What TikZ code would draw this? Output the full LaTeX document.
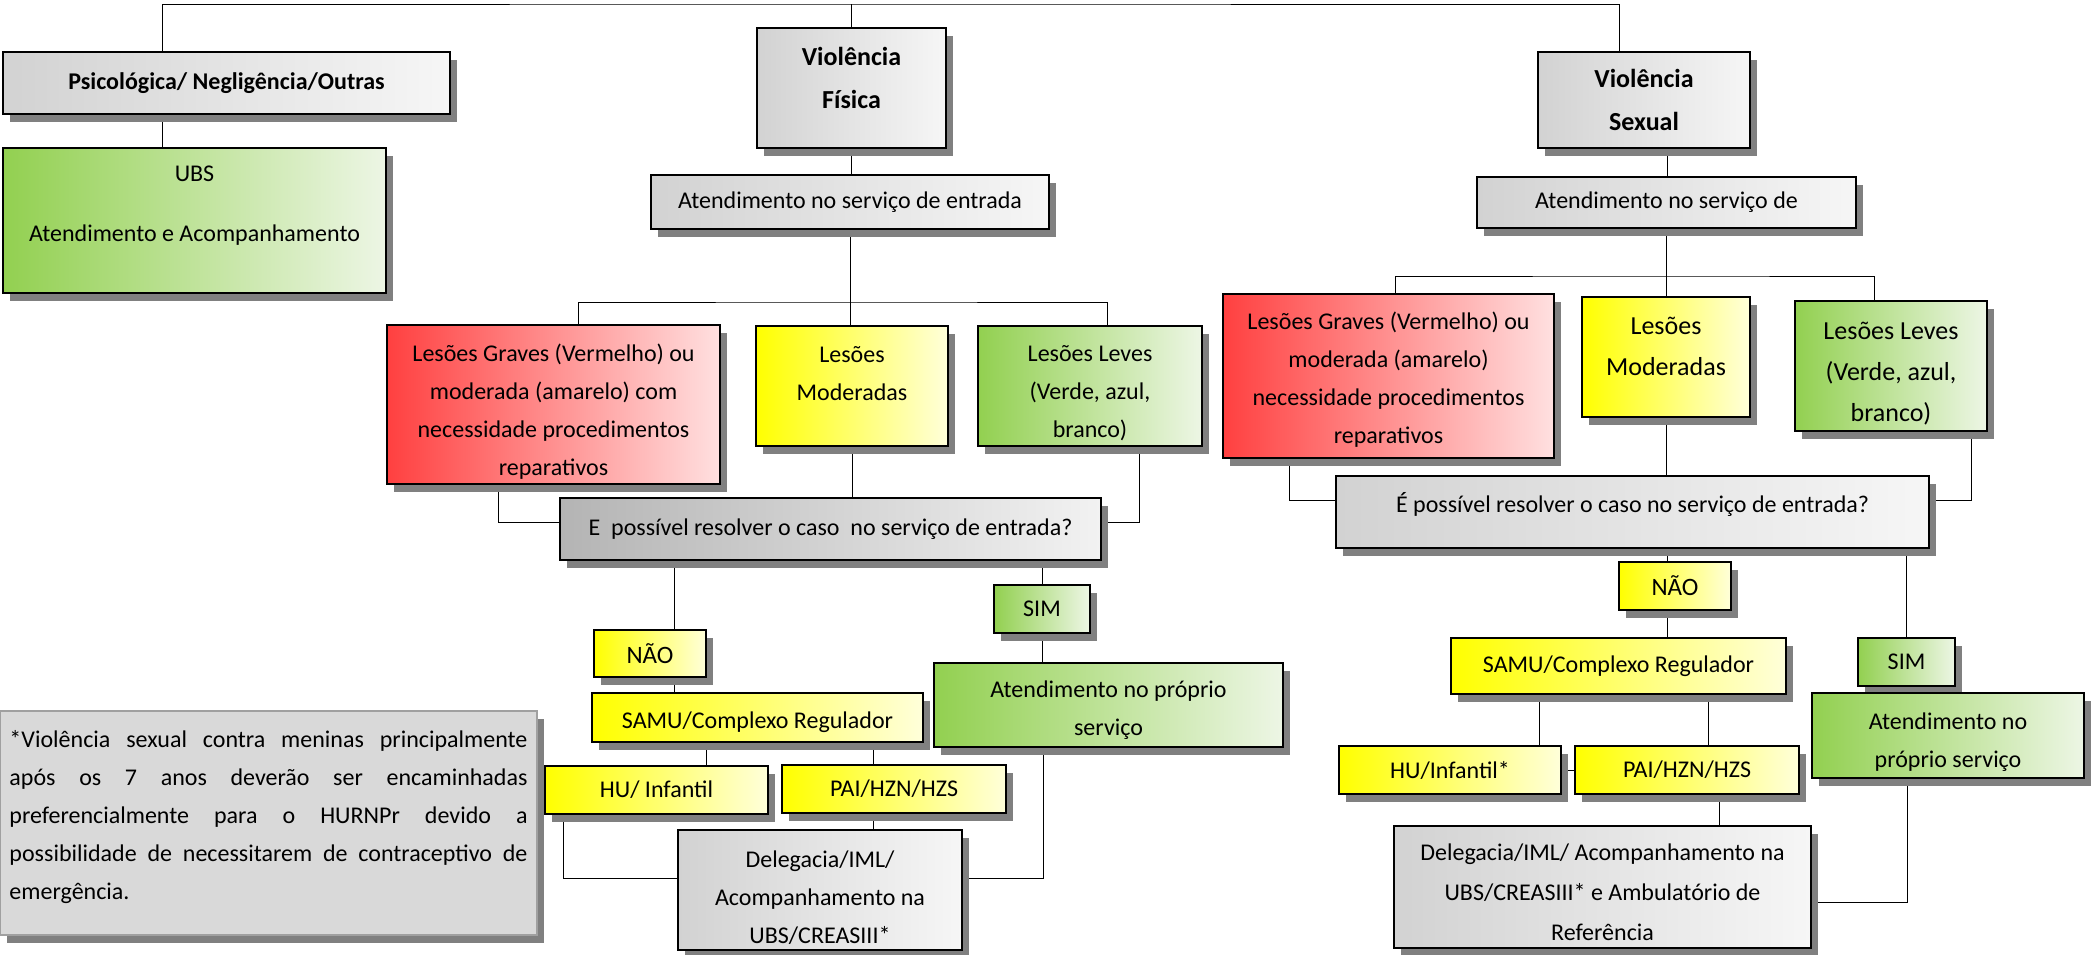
\documentclass[tikz,border=0pt]{standalone}
\usepackage{fontspec}
\setmainfont{Carlito}
\usetikzlibrary{shadows,backgrounds}

\definecolor{grayL}{HTML}{D2D2D2}
\definecolor{grayR}{HTML}{F6F6F6}
\definecolor{qgrayL}{HTML}{B4B4B4}
\definecolor{qgrayR}{HTML}{F2F2F2}
\definecolor{redL}{HTML}{FF4040}
\definecolor{redR}{HTML}{FFE0E0}
\definecolor{yelL}{HTML}{FFFF00}
\definecolor{yelR}{HTML}{FFFFDA}
\definecolor{grnL}{HTML}{92D050}
\definecolor{grnR}{HTML}{EDF6E5}
\definecolor{noteC}{HTML}{D9D9D9}
\definecolor{noteD}{HTML}{A0A0A0}
\definecolor{shadowC}{HTML}{808080}

\tikzset{
  box/.style={draw, line width=0.9pt, align=center, inner sep=2pt,
    font=\fontsize{12}{19}\selectfont,
    drop shadow={shadow xshift=3.5pt, shadow yshift=-4pt, fill=shadowC, opacity=1}},
  graybox/.style={box, left color=grayL, right color=grayR},
  qbox/.style={box, left color=qgrayL, right color=qgrayR},
  redbox/.style={box, left color=redL, right color=redR},
  yellowbox/.style={box, left color=yelL, right color=yelR},
  greenbox/.style={box, left color=grnL, right color=grnR},
  notebox/.style={draw=noteD, fill=noteC, line width=0.6pt,
    drop shadow={shadow xshift=3.5pt, shadow yshift=-4pt, fill=shadowC, opacity=1}},
  txt/.style={align=center, inner sep=0pt, font=\fontsize{12}{19}\selectfont},
  title/.style={font=\bfseries\fontsize{13}{21.5}\selectfont},
  big/.style={font=\fontsize{13}{20.5}\selectfont},
  nao/.style={font=\fontsize{12.5}{19}\selectfont},
  link/.style={line width=0.7pt}
}

\begin{document}
\begin{tikzpicture}[x=0.5pt, y=-0.5pt]
  \useasboundingbox (0,0) rectangle (2096,954);

  % Tipos de violencia
  \node[graybox, font=\bfseries\fontsize{12}{19}\selectfont, minimum width=223.5pt, minimum height=31pt] (psi) at (226.5,83) {Psicológica/ Negligência/Outras};
  \node[greenbox, minimum width=191.5pt, minimum height=72.5pt] (ubs) at (194.5,220.5) {};
  \node[txt] (ubs-t) at ([yshift=7.5pt]ubs.center) {UBS\\[11pt]Atendimento e Acompanhamento};
  \node[graybox, minimum width=94.5pt, minimum height=60pt] (fis) at (851.5,88) {};
  \node[txt, title] (fis-t) at ([yshift=5pt]fis.center) {Violência\\Física};
  \node[graybox, title, minimum width=106pt, minimum height=48pt] (sex) at (1644,100) {Violência\\Sexual};

  % Violencia fisica
  \node[graybox, minimum width=199pt, minimum height=27pt] (entL) at (850,202) {Atendimento no serviço de entrada};
  \node[redbox, minimum width=166.5pt, minimum height=79.5pt] (gravL) at (553.5,404.5) {};
  \node[txt] (gravL-t) at ([yshift=-3.5pt]gravL.center) {Lesões Graves (Vermelho) ou\\moderada (amarelo) com\\necessidade procedimentos\\reparativos};
  \node[yellowbox, minimum width=96pt, minimum height=60pt] (modL) at (852,386) {};
  \node[txt] (modL-t) at ([yshift=6pt]modL.center) {Lesões\\Moderadas};
  \node[greenbox, minimum width=112pt, minimum height=60pt] (levL) at (1090,386) {};
  \node[txt] (levL-t) at ([yshift=-3.5pt]levL.center) {Lesões Leves\\(Verde, azul,\\branco)};
  \node[qbox, minimum width=270.5pt, minimum height=31pt] (qL) at (830.5,529) {E\ \ possível resolver o caso\ \ no serviço de entrada?};
  \node[greenbox, minimum width=48pt, minimum height=24pt] (simL) at (1042,609) {SIM};
  \node[yellowbox, nao, minimum width=56pt, minimum height=23.5pt] (naoL) at (650,653.5) {NÃO};
  \node[yellowbox, minimum width=165.5pt, minimum height=24.5pt] (samuL) at (757.5,717.5) {};
  \node[txt] (samuL-t) at ([yshift=-2.5pt]samuL.center) {SAMU/Complexo Regulador};
  \node[greenbox, minimum width=174.5pt, minimum height=42pt] (atL) at (1108.5,705) {};
  \node[txt] (atL-t) at ([yshift=-2.5pt]atL.center) {Atendimento no próprio\\serviço};
  \node[yellowbox, minimum width=111.5pt, minimum height=24pt] (huL) at (656.5,790) {HU/ Infantil};
  \node[yellowbox, minimum width=112pt, minimum height=24pt] (paiL) at (894,789) {PAI/HZN/HZS};
  \node[graybox, minimum width=142pt, minimum height=60pt] (delL) at (820,890) {};
  \node[txt] (delL-t) at ([yshift=-4pt]delL.center) {Delegacia/IML/\\Acompanhamento na\\UBS/CREASIII*};

  % Violencia sexual
  \node[graybox, minimum width=189.5pt, minimum height=25.5pt] (entR) at (1666.5,202.5) {Atendimento no serviço de};
  \node[redbox, minimum width=165.5pt, minimum height=82pt] (gravR) at (1388.5,376) {};
  \node[txt] (gravR-t) at ([yshift=-2pt]gravR.center) {Lesões Graves (Vermelho) ou\\moderada (amarelo)\\necessidade procedimentos\\reparativos};
  \node[yellowbox, minimum width=84pt, minimum height=60pt] (modR) at (1666,357) {};
  \node[txt, big] (modR-t) at ([yshift=5.5pt]modR.center) {Lesões\\Moderadas};
  \node[greenbox, minimum width=96pt, minimum height=65pt] (levR) at (1891,366) {};
  \node[txt, big] (levR-t) at ([yshift=-4pt]levR.center) {Lesões Leves\\(Verde, azul,\\branco)};
  \node[graybox, minimum width=296.5pt, minimum height=36pt] (qR) at (1632.5,512) {};
  \node[txt] (qR-t) at ([yshift=4pt]qR.center) {É possível resolver o caso no serviço de entrada?};
  \node[yellowbox, nao, minimum width=56pt, minimum height=24pt] (naoR) at (1675,586) {NÃO};
  \node[yellowbox, minimum width=167.5pt, minimum height=28pt] (samuR) at (1618.5,666) {SAMU/Complexo Regulador};
  \node[greenbox, minimum width=48.5pt, minimum height=24pt] (simR) at (1906.5,662) {SIM};
  \node[greenbox, minimum width=136pt, minimum height=42.5pt] (atR) at (1948,735.5) {};
  \node[txt] (atR-t) at ([yshift=-3.5pt]atR.center) {Atendimento no\\próprio serviço};
  \node[yellowbox, minimum width=111pt, minimum height=24pt] (huR) at (1450,770) {HU/Infantil*};
  \node[yellowbox, minimum width=112pt, minimum height=24pt] (paiR) at (1687,770) {PAI/HZN/HZS};
  \node[graybox, minimum width=208.5pt, minimum height=61pt] (delR) at (1602.5,887) {};
  \node[txt, font=\fontsize{12}{20}\selectfont] (delR-t) at ([yshift=-2.5pt]delR.center) {Delegacia/IML/ Acompanhamento na\\UBS/CREASIII* e Ambulatório de\\Referência};

  % Observacao
  \node[notebox, minimum width=268.5pt, minimum height=112pt] (note) at (268.5,823) {};
  \node[txt, align=justify, text width=259pt] (note-t) at ([yshift=3pt]note.center) {*Violência sexual contra meninas principalmente\linebreak após os 7 anos deverão ser encaminhadas\linebreak preferencialmente para o HURNPr devido a\linebreak possibilidade de necessitarem de contraceptivo de\linebreak emergência.};

  % Ligacoes
  \begin{scope}[on background layer, link]
    \coordinate (top) at (850,4);
    \coordinate (busL) at (850,302);
    \coordinate (busR) at (1667,276);
    \draw ([xshift=-32.25pt]psi.north) |- (top) -| ([xshift=-12.5pt]sex.north);
    \draw (fis.north) -- (fis.north |- top);
    \draw ([xshift=-32.25pt]psi.south) -- ([xshift=-32.25pt]psi.south |- ubs.north);

    \draw (fis.south) -- (fis.south |- entL.north);
    \draw (entL.south) -- (entL.south |- busL);
    \draw ([xshift=12.25pt]gravL.north) |- (busL) -| ([xshift=8.5pt]levL.north);
    \draw (busL) -- (busL |- modL.north);
    \draw (modL.south) -- (modL.south |- qL.north);
    \draw ([xshift=-27.75pt]gravL.south) |- ([yshift=3.5pt]qL.west);
    \draw ([xshift=24.5pt]levL.south) |- ([yshift=3.5pt]qL.east);
    \draw ([xshift=12pt]naoL.north) -- ([xshift=12pt]naoL.north |- qL.south);
    \draw (simL.north) -- (simL.north |- qL.south);
    \draw ([xshift=12pt]naoL.south) -- ([xshift=12pt]naoL.south |- samuL.north);
    \draw (simL.south) -- (simL.south |- atL.north);
    \draw ([xshift=24.75pt]huL.north) -- ([xshift=24.75pt]huL.north |- samuL.south);
    \draw ([xshift=-10.5pt]paiL.north) -- ([xshift=-10.5pt]paiL.north |- samuL.south);
    \draw ([xshift=-10.5pt]paiL.south) -- ([xshift=-10.5pt]paiL.south |- delL.north);
    \draw ([xshift=-46.75pt]huL.south) |- ([yshift=6pt]delL.west);
    \draw ([xshift=-32.75pt]atL.south) |- ([yshift=6pt]delL.east);

    \draw ([xshift=11.5pt]sex.south) -- ([xshift=11.5pt]sex.south |- entR.north);
    \draw (entR.south) -- (entR.south |- modR.north);
    \draw ([xshift=3.25pt]gravR.north) |- (busR) -| ([xshift=-8.5pt]levR.north);
    \draw (modR.south) -- (modR.south |- qR.north);
    \draw ([xshift=-49.75pt]gravR.south) |- ([yshift=6pt]qR.west);
    \draw ([xshift=40pt]levR.south) |- ([yshift=6pt]qR.east);
    \draw ([xshift=-4pt]naoR.north) -- ([xshift=-4pt]naoR.north |- qR.south);
    \draw (simR.north) -- (simR.north |- qR.south);
    \draw ([xshift=-4pt]naoR.south) -- ([xshift=-4pt]naoR.south |- samuR.north);
    \draw (simR.south) -- (simR.south |- atR.north);
    \draw ([xshift=44.5pt]huR.north) -- ([xshift=44.5pt]huR.north |- samuR.south);
    \draw ([xshift=10.5pt]paiR.north) -- ([xshift=10.5pt]paiR.north |- samuR.south);
    \draw (huR.east) -- (paiR.west);
    \draw ([xshift=16pt]paiR.south) -- ([xshift=16pt]paiR.south |- delR.north);
    \draw ([xshift=-20.5pt]atR.south) |- ([yshift=-7.5pt]delR.east);
  \end{scope}
\end{tikzpicture}
\end{document}
